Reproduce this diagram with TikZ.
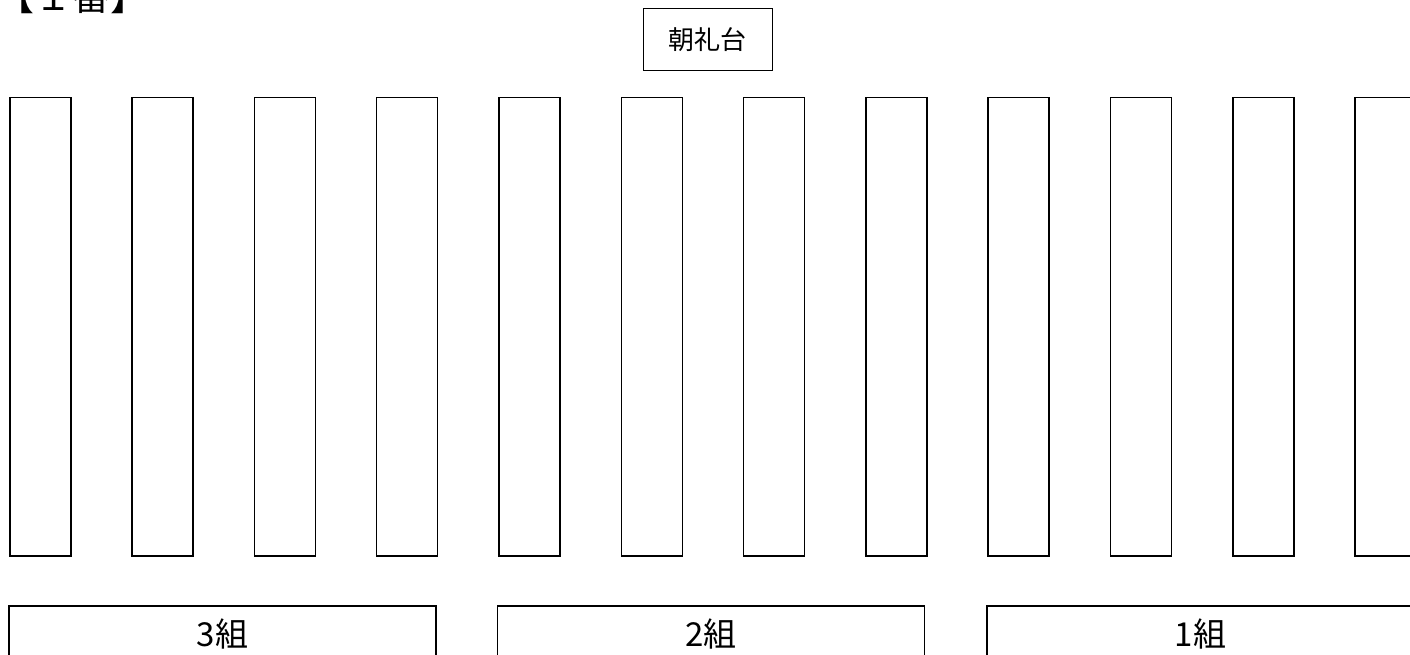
\documentclass[tikz,border=0pt]{standalone}
\usepackage{fontspec}
\newfontfamily\jp{Noto Sans CJK JP}
\begin{document}
\begin{tikzpicture}[x=1pt,y=-1pt,
  box/.style={draw,line width=1.5pt},
  lbl/.style={font=\jp\fontsize{33}{33}\selectfont},
  grp/.style={box,minimum width=427pt,minimum height=56pt,inner sep=0pt,lbl}]
\useasboundingbox (0,0) rectangle (1410,655);
\clip (0,0) rectangle (1410,655);
\node[anchor=base,font=\jp\fontsize{38}{38}\selectfont,inner sep=0pt] (title) at (72,11) {【１番】};
\node[draw,line width=1pt,minimum width=129pt,minimum height=62pt,inner sep=0pt,font=\jp\fontsize{26}{26}\selectfont] (stage) at (707.5,40) {朝礼台};
\foreach \i in {0,...,11}
  \node[box,minimum width=61pt,minimum height=458pt,inner sep=0pt,anchor=north west] (row\i) at ({9+\i*122.3},97) {};
\node[grp] (c3) at (222.5,634) {3組};
\node[grp] (c2) at (711,634) {2組};
\node[grp] (c1) at (1200.5,634) {1組};
\end{tikzpicture}
\end{document}
